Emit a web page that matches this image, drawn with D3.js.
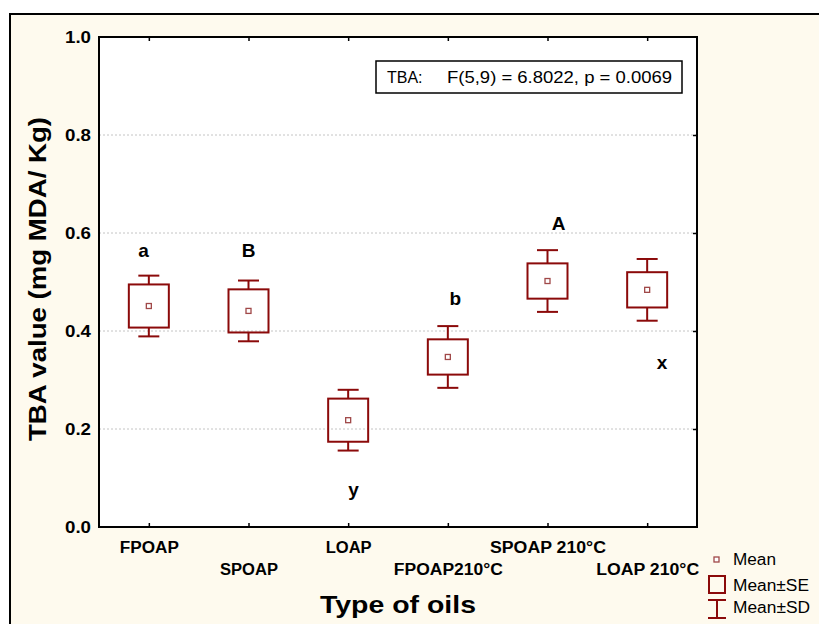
<!DOCTYPE html>
<html>
<head>
<meta charset="utf-8">
<script src="https://cdn.jsdelivr.net/npm/d3@7"></script>
<style>
  html, body { margin: 0; padding: 0; background: #ffffff; }
  svg { display: block; font-family: "Liberation Sans", Arial, sans-serif; }
</style>
</head>
<body>
<svg id="chart" width="819" height="624"></svg>
<script>
// ---------- data ----------
const categories = ["FPOAP", "SPOAP", "LOAP", "FPOAP210°C", "SPOAP 210°C", "LOAP 210°C"];
const means = [0.451, 0.441, 0.218, 0.347, 0.502, 0.484];
const se    = [0.044, 0.044, 0.044, 0.036, 0.036, 0.036];
const sd    = [0.062, 0.062, 0.062, 0.063, 0.063, 0.063];
const yTicks = [0.0, 0.2, 0.4, 0.6, 0.8, 1.0];
// significance letters (value = baseline in data units, shift = fraction of category step)
const letters      = ["a", "B", "y", "b", "A", "x"];
const letterValue  = [0.551, 0.551, 0.063, 0.453, 0.606, 0.322];
const letterShift  = [-0.053, 0.002, 0.053, 0.075, 0.112, 0.15];
const statLabel = "TBA:";
const statText  = "F(5,9) = 6.8022,  p = 0.0069";
const legendItems = ["Mean", "Mean±SE", "Mean±SD"];
const xTitle = "Type of oils";
const yTitle = "TBA value (mg MDA/ Kg)";

// ---------- layout ----------
const W = 819, H = 624;
const P = { left: 99, top: 37, right: 697, bottom: 527 };
const RED = "#8b0a0a";
const svg = d3.select("#chart");

// outer background + border
svg.append("rect").attr("x", 10).attr("y", 14).attr("width", W - 10).attr("height", H - 14)
  .attr("fill", "#fefaee");
svg.append("path").attr("d", `M10,${H} L10,14 L${W},14`)
  .attr("fill", "none").attr("stroke", "#000").attr("stroke-width", 2);

const x = d3.scalePoint().domain(categories).range([P.left, P.right]).padding(0.5);
const y = d3.scaleLinear().domain([0, 1]).range([P.bottom, P.top]);

// plot background
svg.append("rect").attr("x", P.left).attr("y", P.top)
  .attr("width", P.right - P.left).attr("height", P.bottom - P.top).attr("fill", "#ffffff");

// grid
svg.append("g").selectAll("line").data(yTicks.filter(d => d > 0 && d < 1)).join("line")
  .attr("x1", P.left).attr("x2", P.right)
  .attr("y1", d => y(d)).attr("y2", d => y(d))
  .attr("stroke", "#c4c4c4").attr("stroke-width", 1).attr("stroke-dasharray", "2,2");

// y axis labels
const yAxis = svg.append("g").attr("transform", `translate(${P.left},0)`)
  .call(d3.axisLeft(y).tickValues(yTicks).tickSize(0).tickPadding(8).tickFormat(d3.format(".1f")));
yAxis.select(".domain").remove();
yAxis.selectAll("text")
  .attr("font-family", "'Liberation Sans', Arial, sans-serif")
  .attr("font-size", 16).attr("font-weight", "bold").attr("fill", "#000")
  .attr("textLength", 26).attr("lengthAdjust", "spacingAndGlyphs");

// right ticks
const rAxis = svg.append("g").attr("transform", `translate(${P.right},0)`)
  .call(d3.axisRight(y).tickValues(yTicks.filter(d => d > 0 && d < 1)).tickSize(-4).tickFormat(""));
rAxis.select(".domain").remove();
rAxis.selectAll("line").attr("stroke", "#000").attr("stroke-width", 1.5);

// top ticks
const tAxis = svg.append("g").attr("transform", `translate(0,${P.top})`)
  .call(d3.axisTop(x).tickSize(-4).tickFormat(""));
tAxis.select(".domain").remove();
tAxis.selectAll("line").attr("stroke", "#000").attr("stroke-width", 1.5);

// bottom axis with staggered labels
const labelWidths = [59, 58, 46, 109, 116, 103];
const bAxis = svg.append("g").attr("transform", `translate(0,${P.bottom})`)
  .call(d3.axisBottom(x).tickSize(-4).tickPadding(0));
bAxis.select(".domain").remove();
bAxis.selectAll("line").attr("stroke", "#000").attr("stroke-width", 1.5);
bAxis.selectAll("text")
  .attr("font-family", "'Liberation Sans', Arial, sans-serif")
  .attr("font-size", 16).attr("font-weight", "bold").attr("fill", "#000")
  .attr("dy", null)
  .attr("y", (d, i) => (i % 2 === 0 ? 26 : 48))
  .attr("textLength", (d, i) => labelWidths[i]).attr("lengthAdjust", "spacingAndGlyphs");

// frame
svg.append("rect").attr("x", P.left).attr("y", P.top)
  .attr("width", P.right - P.left).attr("height", P.bottom - P.top)
  .attr("fill", "none").attr("stroke", "#000").attr("stroke-width", 2);

// boxes and whiskers
const boxW = 40, capW = 21;
const g = svg.append("g");
categories.forEach((c, i) => {
  const cx = x(c);
  g.append("line").attr("x1", cx).attr("x2", cx)
    .attr("y1", y(means[i] + sd[i])).attr("y2", y(means[i] + se[i]))
    .attr("stroke", RED).attr("stroke-width", 2);
  g.append("line").attr("x1", cx).attr("x2", cx)
    .attr("y1", y(means[i] - se[i])).attr("y2", y(means[i] - sd[i]))
    .attr("stroke", RED).attr("stroke-width", 2);
  [means[i] + sd[i], means[i] - sd[i]].forEach(v => {
    g.append("line").attr("x1", cx - capW / 2).attr("x2", cx + capW / 2)
      .attr("y1", y(v)).attr("y2", y(v))
      .attr("stroke", RED).attr("stroke-width", 2);
  });
  g.append("rect").attr("x", cx - boxW / 2).attr("y", y(means[i] + se[i]))
    .attr("width", boxW).attr("height", y(means[i] - se[i]) - y(means[i] + se[i]))
    .attr("fill", "none").attr("stroke", RED).attr("stroke-width", 2);
  g.append("rect").attr("x", cx - 2.5).attr("y", y(means[i]) - 2.5)
    .attr("width", 5).attr("height", 5)
    .attr("fill", "#fff").attr("stroke", "#a04848").attr("stroke-width", 1.3);
});

// significance letters
const step = x.step();
svg.append("g").selectAll("text").data(letters).join("text")
  .attr("x", (d, i) => x(categories[i]) + letterShift[i] * step)
  .attr("y", (d, i) => y(letterValue[i]))
  .attr("text-anchor", "middle")
  .attr("font-size", 19).attr("font-weight", "bold").attr("fill", "#000")
  .text(d => d);

// stat box
svg.append("rect").attr("x", 376).attr("y", 61).attr("width", 306).attr("height", 32)
  .attr("fill", "#fff").attr("stroke", "#000").attr("stroke-width", 1.5);
svg.append("text").attr("x", 387).attr("y", 83).attr("font-size", 16).attr("fill", "#000")
  .text(statLabel);
svg.append("text").attr("x", 447).attr("y", 83).attr("font-size", 16).attr("fill", "#000")
  .attr("textLength", 225).attr("lengthAdjust", "spacingAndGlyphs").text(statText);

// axis titles
svg.append("text").attr("x", (P.left + P.right) / 2).attr("y", 613)
  .attr("text-anchor", "middle").attr("font-size", 24).attr("font-weight", "bold").attr("fill", "#000")
  .attr("textLength", 156).attr("lengthAdjust", "spacingAndGlyphs").text(xTitle);
svg.append("text").attr("transform", `translate(46,${(117 + 441) / 2}) rotate(-90)`)
  .attr("text-anchor", "middle").attr("font-size", 24).attr("font-weight", "bold").attr("fill", "#000")
  .attr("textLength", 324).attr("lengthAdjust", "spacingAndGlyphs").text(yTitle);

// legend
const lg = svg.append("g");
lg.append("rect").attr("x", 714).attr("y", 557).attr("width", 5).attr("height", 5)
  .attr("fill", "#fff").attr("stroke", "#a04848").attr("stroke-width", 1.3);
lg.append("rect").attr("x", 709).attr("y", 576).attr("width", 16).attr("height", 17)
  .attr("fill", "none").attr("stroke", RED).attr("stroke-width", 2);
lg.append("path").attr("d", "M708,600 H726 M717,600 V618 M708,618 H726")
  .attr("fill", "none").attr("stroke", RED).attr("stroke-width", 2);
const legendWidths = [43, 76, 77];
const legendY = [565, 591, 613];
lg.selectAll("text").data(legendItems).join("text")
  .attr("x", 733).attr("y", (d, i) => legendY[i])
  .attr("font-size", 16).attr("fill", "#000")
  .attr("textLength", (d, i) => legendWidths[i]).attr("lengthAdjust", "spacingAndGlyphs")
  .text(d => d);
</script>
</body>
</html>
